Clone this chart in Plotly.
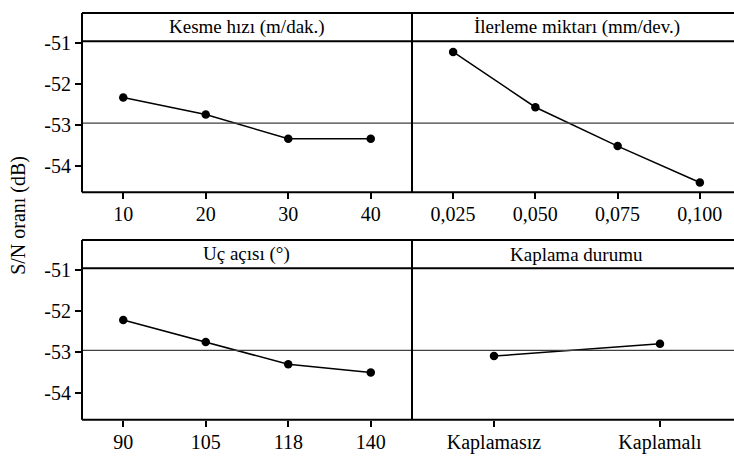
import plotly.graph_objects as go

# Main effects of S/N ratio (dB) for each factor
kesme_levels = ["10", "20", "30", "40"]
kesme_sn = [-52.33, -52.75, -53.34, -53.34]

ilerleme_levels = ["0,025", "0,050", "0,075", "0,100"]
ilerleme_sn = [-51.22, -52.57, -53.52, -54.41]

uc_levels = ["90", "105", "118", "140"]
uc_sn = [-52.22, -52.76, -53.30, -53.50]

kaplama_levels = ["Kaplamasız", "Kaplamalı"]
kaplama_sn = [-53.10, -52.80]

panel_titles = ["Kesme hızı (m/dak.)", "İlerleme miktarı (mm/dev.)",
                "Uç açısı (°)", "Kaplama durumu"]
grand_mean = -52.96

y_tickvals = [-51, -52, -53, -54]
y_ticktext = ["-51", "-52", "-53", "-54"]

W, H = 734, 460
FONT = "Liberation Serif"

# pixel geometry of the 2x2 grid
x_left, x_mid, x_right = 82, 412, 734
rows = [  # (box top, header bottom, plot bottom)
    (4, 33, 187),
    (235.7, 264.3, 419),
]

def px(x):
    return x / W

def py(y):
    return 1 - y / H

fig = go.Figure()

panels = [
    (kesme_levels, kesme_sn, 0, 0, [-0.5, 3.5]),
    (ilerleme_levels, ilerleme_sn, 0, 1, [-0.5, 3.415]),
    (uc_levels, uc_sn, 1, 0, [-0.5, 3.5]),
    (kaplama_levels, kaplama_sn, 1, 1, [-0.494, 1.446]),
]

y_range = [-54.65, -50.96]
shapes = []
annotations = []

for i, (levels, vals, r, c, xr) in enumerate(panels):
    n = i + 1
    xa = "x" if n == 1 else f"x{n}"
    ya = "y" if n == 1 else f"y{n}"
    top, hdr, bot = rows[r]
    x0 = x_left if c == 0 else x_mid
    x1 = x_mid if c == 0 else x_right

    fig.add_trace(go.Scatter(
        x=levels, y=vals, xaxis=xa, yaxis=ya, mode="lines+markers",
        line=dict(color="black", width=1.5),
        marker=dict(color="black", size=8.5),
        showlegend=False, hoverinfo="x+y",
    ))

    xkey = "xaxis" if n == 1 else f"xaxis{n}"
    ykey = "yaxis" if n == 1 else f"yaxis{n}"
    fig.layout[xkey] = dict(
        domain=[px(x0), px(x1)], anchor=ya, type="category",
        categoryorder="array", categoryarray=levels, range=xr,
        showgrid=False, zeroline=False, showline=False,
        ticks="outside", ticklen=6, tickwidth=1.5, tickcolor="black",
        ticklabelstandoff=-2,
        tickfont=dict(family=FONT, size=20, color="black"),
        fixedrange=True,
    )
    fig.layout[ykey] = dict(
        domain=[py(bot), py(hdr)], anchor=xa, range=y_range,
        showgrid=False, zeroline=False, showline=False,
        tickvals=y_tickvals, ticktext=y_ticktext,
        ticks="outside" if c == 0 else "", ticklen=6, tickwidth=1.5,
        tickcolor="black", showticklabels=(c == 0),
        tickfont=dict(family=FONT, size=20, color="black"),
        fixedrange=True,
    )

    # grand mean reference line
    shapes.append(dict(type="line", xref="paper", yref=ya,
                       x0=px(x0), x1=px(x1), y0=grand_mean, y1=grand_mean,
                       line=dict(color="#404040", width=1.3)))

    # panel header title
    cx = (x0 + (741 if c == 1 else x1)) / 2
    annotations.append(dict(text=panel_titles[i], xref="paper", yref="paper",
                            x=px(cx), y=py((top + hdr) / 2),
                            xanchor="center", yanchor="middle", showarrow=False,
                            font=dict(family=FONT, size=19, color="black")))

# box outlines: top edge, header line, bottom edge and vertical dividers
for top, hdr, bot in rows:
    for yy in (top, hdr, bot):
        shapes.append(dict(type="line", xref="paper", yref="paper",
                           x0=px(x_left), x1=1, y0=py(yy), y1=py(yy),
                           line=dict(color="black", width=2)))
    for xx in (x_left, x_mid):
        shapes.append(dict(type="line", xref="paper", yref="paper",
                           x0=px(xx), x1=px(xx), y0=py(top), y1=py(bot),
                           line=dict(color="black", width=2)))

annotations.append(dict(text="S/N oranı (dB)", xref="paper", yref="paper",
                        x=px(19), y=py(211), textangle=-90,
                        xanchor="center", yanchor="middle", showarrow=False,
                        font=dict(family=FONT, size=20, color="black")))

fig.update_layout(
    width=W, height=H, margin=dict(l=0, r=0, t=0, b=0),
    paper_bgcolor="white", plot_bgcolor="white",
    shapes=shapes, annotations=annotations,
)

fig.write_html("out.html")
